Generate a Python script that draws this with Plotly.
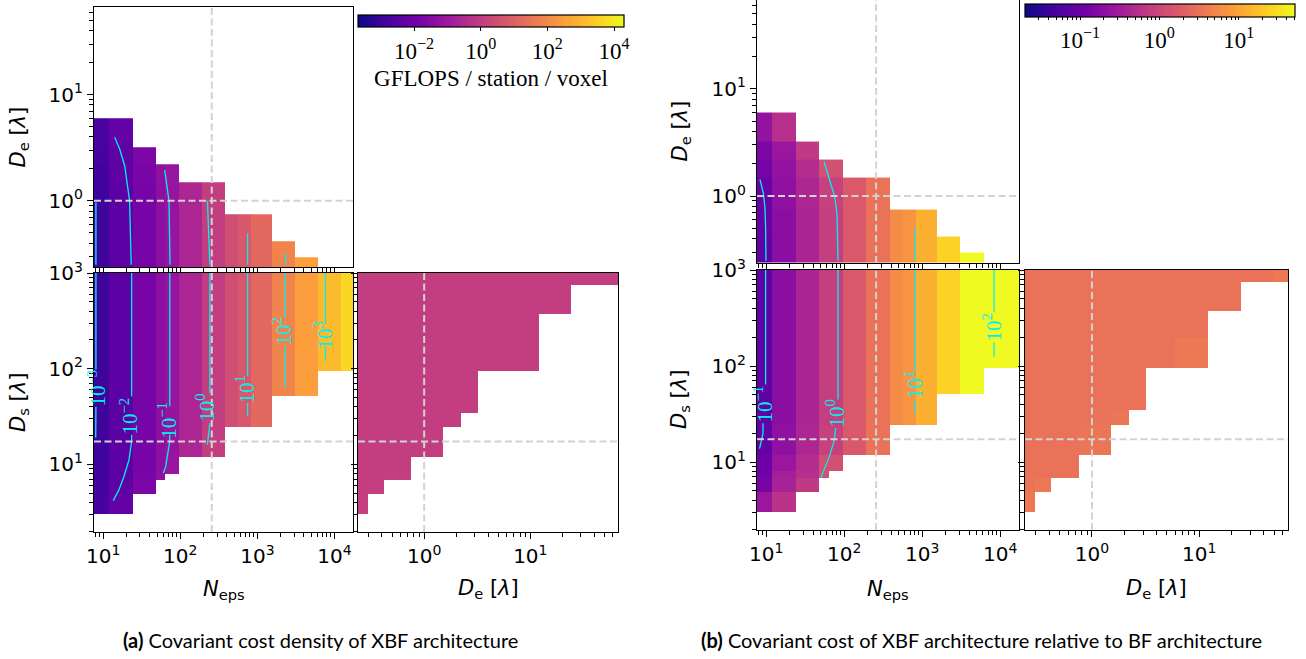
import numpy as np
import plotly.graph_objects as go

W, H = 1306, 659
N = None

# ---------------- data ----------------
# cell edges of the parameter grid
NEPS_EDGES = [7.6, 12, 24, 48, 64, 96, 192, 384, 560, 820, 1536, 3072, 6144, 12000, 17400]
DE_EDGES = [0.238, 0.295, 0.417, 0.755, 1.5, 2.2, 3.2, 6.0, 12.1, 24.2, 48.6, 67]
DS_EDGES = [3.0, 4.85, 6.85, 8.0, 11.9, 24.3, 34.7, 51.4, 95, 195, 370, 750, 1000]

# slice values (dashed lines)
SLICE_NEPS = 256
SLICE_DE = 1.0
SLICE_DS = 17.3

# (a) log10 GFLOPS / station / voxel
A_TL = [  # rows: D_e bins (0.238..6.0), cols: N_eps bins
    [-2.9, -2.35, -1.8, -1.35, -1.15, -0.6, 0.05, 0.5, 0.75, 1.2, 1.9, 2.5, N, N],
    [-2.9, -2.35, -1.8, -1.35, -1.15, -0.6, 0.05, 0.5, 0.75, 1.2, 1.9, N, N, N],
    [-2.9, -2.35, -1.8, -1.35, -1.15, -0.6, 0.05, 0.5, 0.75, 1.2, N, N, N, N],
    [-2.9, -2.35, -1.8, -1.35, -1.15, -0.6, 0.05, N, N, N, N, N, N, N],
    [-2.85, -2.3, -1.75, -1.3, -1.1, N, N, N, N, N, N, N, N, N],
    [-2.8, -2.3, -1.7, N, N, N, N, N, N, N, N, N, N, N],
    [-2.7, -2.2, N, N, N, N, N, N, N, N, N, N, N, N],
]
A_BL = [  # rows: D_s bins, cols: N_eps bins
    [-2.75, -2.2, N, N, N, N, N, N, N, N, N, N, N, N],
    [-2.8, -2.3, -1.7, N, N, N, N, N, N, N, N, N, N, N],
    [-2.85, -2.35, -1.75, -1.3, N, N, N, N, N, N, N, N, N, N],
    [-2.9, -2.35, -1.8, -1.35, -1.1, N, N, N, N, N, N, N, N, N],
    [-2.9, -2.35, -1.8, -1.35, -1.15, -0.6, 0.05, N, N, N, N, N, N, N],
    [-2.9, -2.35, -1.8, -1.35, -1.15, -0.6, 0.05, 0.5, 0.75, 1.2, N, N, N, N],
    [-2.9, -2.35, -1.8, -1.35, -1.15, -0.6, 0.05, 0.5, 0.75, 1.2, N, N, N, N],
    [-2.9, -2.35, -1.8, -1.35, -1.15, -0.6, 0.05, 0.5, 0.75, 1.2, 1.9, 2.5, N, N],
    [-2.9, -2.35, -1.8, -1.35, -1.15, -0.6, 0.05, 0.5, 0.75, 1.2, 1.9, 2.5, 3.1, 3.65],
    [-2.9, -2.35, -1.8, -1.35, -1.15, -0.6, 0.05, 0.5, 0.75, 1.2, 1.9, 2.5, 3.1, 3.65],
    [-2.9, -2.35, -1.8, -1.35, -1.15, -0.6, 0.05, 0.5, 0.75, 1.2, 1.9, 2.5, 3.1, 3.65],
    [-2.9, -2.35, -1.8, -1.35, -1.15, -0.6, 0.05, 0.5, 0.75, 1.2, 1.9, 2.5, 3.1, 3.65],
]
A_BR = [  # rows: D_s bins, cols: D_e bins
    [0.1, N, N, N, N, N, N, N, N, N, N],
    [0.07, 0.08, N, N, N, N, N, N, N, N, N],
    [0.06, 0.06, 0.08, N, N, N, N, N, N, N, N],
    [0.05, 0.05, 0.06, N, N, N, N, N, N, N, N],
    [0.05, 0.05, 0.05, 0.06, N, N, N, N, N, N, N],
    [0.05, 0.05, 0.05, 0.05, 0.06, N, N, N, N, N, N],
    [0.05, 0.05, 0.05, 0.05, 0.05, 0.05, N, N, N, N, N],
    [0.05, 0.05, 0.05, 0.05, 0.05, 0.05, N, N, N, N, N],
    [0.05, 0.05, 0.05, 0.05, 0.05, 0.05, 0.05, 0.05, N, N, N],
    [0.05, 0.05, 0.05, 0.05, 0.05, 0.05, 0.05, 0.05, N, N, N],
    [0.05, 0.05, 0.05, 0.05, 0.05, 0.05, 0.05, 0.05, 0.05, N, N],
    [0.05, 0.05, 0.05, 0.05, 0.05, 0.05, 0.05, 0.05, 0.05, 0.05, 0.05],
]

# (b) log10 cost ratio XBF / BF
B_TL = [
    [-1.08, -0.71, -0.40, -0.09, -0.09, 0.21, 0.50, 0.76, 0.84, 1.10, 1.40, 1.75, N, N],
    [-1.08, -0.71, -0.40, -0.09, -0.09, 0.21, 0.50, 0.76, 0.84, 1.10, 1.40, N, N, N],
    [-1.05, -0.71, -0.40, -0.09, -0.09, 0.21, 0.50, 0.76, 0.84, 1.10, N, N, N, N],
    [-1.01, -0.67, -0.37, -0.06, -0.06, 0.22, 0.50, N, N, N, N, N, N, N],
    [-0.91, -0.64, -0.30, 0.11, 0.11, N, N, N, N, N, N, N, N, N],
    [-0.84, -0.57, -0.16, N, N, N, N, N, N, N, N, N, N, N],
    [-0.64, -0.26, N, N, N, N, N, N, N, N, N, N, N, N],
]
B_BL = [
    [-0.57, -0.23, N, N, N, N, N, N, N, N, N, N, N, N],
    [-0.88, -0.43, -0.16, N, N, N, N, N, N, N, N, N, N, N],
    [-0.95, -0.47, -0.27, 0.11, N, N, N, N, N, N, N, N, N, N],
    [-0.98, -0.57, -0.30, 0.11, 0.11, N, N, N, N, N, N, N, N, N],
    [-1.05, -0.67, -0.37, -0.06, -0.06, 0.22, 0.50, N, N, N, N, N, N, N],
    [-1.08, -0.72, -0.40, -0.09, -0.09, 0.21, 0.50, 0.76, 0.84, 1.10, N, N, N, N],
    [-1.08, -0.72, -0.40, -0.09, -0.09, 0.21, 0.50, 0.76, 0.84, 1.10, N, N, N, N],
    [-1.08, -0.72, -0.40, -0.09, -0.09, 0.21, 0.50, 0.76, 0.84, 1.10, 1.40, 1.75, N, N],
    [-1.08, -0.72, -0.40, -0.09, -0.09, 0.21, 0.50, 0.76, 0.84, 1.10, 1.40, 1.75, 2.05, 2.2],
    [-1.08, -0.72, -0.40, -0.09, -0.09, 0.21, 0.50, 0.76, 0.84, 1.10, 1.40, 1.75, 2.05, 2.2],
    [-1.08, -0.72, -0.40, -0.09, -0.09, 0.21, 0.50, 0.76, 0.84, 1.10, 1.40, 1.75, 2.05, 2.2],
    [-1.08, -0.72, -0.40, -0.09, -0.09, 0.21, 0.50, 0.76, 0.84, 1.10, 1.40, 1.75, 2.05, 2.2],
]
B_BR = [
    [0.58, N, N, N, N, N, N, N, N, N, N],
    [0.52, 0.56, N, N, N, N, N, N, N, N, N],
    [0.50, 0.50, 0.51, N, N, N, N, N, N, N, N],
    [0.50, 0.50, 0.50, N, N, N, N, N, N, N, N],
    [0.50, 0.50, 0.50, 0.54, N, N, N, N, N, N, N],
    [0.50, 0.50, 0.50, 0.50, 0.54, N, N, N, N, N, N],
    [0.50, 0.50, 0.50, 0.50, 0.50, 0.50, N, N, N, N, N],
    [0.50, 0.50, 0.50, 0.50, 0.50, 0.50, N, N, N, N, N],
    [0.50, 0.50, 0.50, 0.50, 0.50, 0.50, 0.50, 0.56, N, N, N],
    [0.50, 0.50, 0.50, 0.50, 0.50, 0.50, 0.50, 0.50, N, N, N],
    [0.50, 0.50, 0.50, 0.50, 0.50, 0.50, 0.50, 0.50, 0.50, N, N],
    [0.50, 0.50, 0.50, 0.50, 0.50, 0.50, 0.50, 0.50, 0.50, 0.50, 0.58],
]

# contour lines (N_eps values, D values[, label, label position])
A_TL_CONT = [
    ([8.05, 8.05], [0.966, 0.25]),
    ([14.1, 16.3, 19.0, 20.9, 22.0, 23.1], [3.98, 3.09, 2.14, 1.39, 1.0, 0.25]),
    ([62.8, 67.3, 71.4, 73.6], [1.96, 1.39, 1.0, 0.25]),
    ([225, 242], [1.0, 0.25]),
    ([747, 747], [0.495, 0.25]),
    ([2330, 2330], [0.32, 0.25]),
]
A_BL_CONT = [
    ("10<sup>−3</sup>", [8.05, 8.05, N, 8.05, 8.0], [1000, 98, N, 40, 19], (8.2, 62.7)),
    ("10<sup>−2</sup>", [23.4, 23.4, N, 23.4, 23.4, 21.6, 18.6, 16.0, 13.5],
     [1000, 51.4, N, 20.4, 17.3, 11.1, 7.45, 5.4, 4.17], (21.6, 32.4)),
    ("10<sup>−1</sup>", [73, 73, N, 73, 73, 67.9, 64.7, 60.3],
     [1000, 40.4, N, 20.4, 17.4, 12.1, 9.5, 8.1], (67.9, 28.8)),
    ("10<sup>0</sup>", [242, 242, N, 242, 233, 225], [1000, 55.8, N, 27, 20, 16], (215, 38.9)),
    ("10<sup>1</sup>", [747, 747, N, 747, 747], [1000, 83.4, N, 43.9, 31.8], (711, 60.5)),
    ("10<sup>2</sup>", [2285, 2285, N, 2285, 2285], [1000, 342, N, 172, 63], (2130, 243)),
    ("10<sup>3</sup>", [7640, 7640, N, 7640, 7640], [1000, 291, N, 172, 120], (7200, 224)),
]
B_TL_CONT = [
    ([8.3, 9.2, 9.6, 9.8, 9.9], [1.43, 1.05, 0.79, 0.514, 0.25]),
    ([55, 65.2, 75.4, 80.7, 83.2], [2.1, 1.4, 0.98, 0.685, 0.25]),
    ([817, 817], [0.503, 0.25]),
]
B_BL_CONT = [
    ("10<sup>−1</sup>", [9.8, 9.8, N, 9.07, 9.07, 8.2], [1000, 64.3, N, 25.3, 19.9, 13.8], (9.3, 40.6)),
    ("10<sup>0</sup>", [83.2, 83.2, N, 77.6, 73.8, 65.2, 56.2, 50.1],
     [1000, 44.8, N, 22.6, 16.4, 11.8, 8.6, 6.85], (78, 31.9)),
    ("10<sup>1</sup>", [817, 817, N, 817, 817], [1000, 88.9, N, 44.8, 31.9], (780, 63.1)),
    ("10<sup>2</sup>", [8340, 8340, N, 8340, 8340], [1000, 363, N, 176, 125], (7900, 253)),
]

# ranges (log10)
NEPS_RANGE = [np.log10(7.6), np.log10(17400)]
DE_RANGE = [np.log10(0.238), np.log10(67)]
DS_RANGE = [0.292, 3.0]

A_CB = [-3.68, 4.3]
B_CB = [-1.694, 1.71]

# ---------------- figure ----------------
fig = go.Figure()


def dx(a, b):
    return [a / W, b / W]


def dy(top, bottom):
    return [1 - bottom / H, min(1.0, 1 - top / H)]


MINOR = [k * 10.0 ** d for d in range(-2, 5) for k in range(2, 10)]


def axis(rng, domain, anchor, labels, tv, tt):
    return dict(type='log', range=rng, domain=domain, anchor=anchor,
                showgrid=False, zeroline=False, showline=True, linecolor='black',
                linewidth=1.3, mirror=True, ticks='outside', ticklen=6, tickwidth=1.2,
                tickcolor='black', tickmode='array', tickvals=tv, ticktext=tt,
                showticklabels=labels,
                tickfont=dict(family='DejaVu Sans', size=20, color='black'),
                minor=dict(ticks='outside', ticklen=3.5, tickwidth=1, tickcolor='black',
                           tickmode='array', tickvals=MINOR, showgrid=False),
                fixedrange=True)


NE_TV = [10, 100, 1000, 10000]
NE_TT = ['10<sup>1</sup>', '10<sup>2</sup>', '10<sup>3</sup>', '10<sup>4</sup>']
DE_TV = [1, 10]
DE_TT = ['10<sup>0</sup>', '10<sup>1</sup>']
DS_TV = [10, 100, 1000]
DS_TT = ['10<sup>1</sup>', '10<sup>2</sup>', '10<sup>3</sup>']

panels = {
    'a': dict(tl=(94, 353, 7, 267), bl=(94, 353, 273, 532), br=(358, 618, 273, 532)),
    'b': dict(tl=(757, 1019, 0, 263), bl=(757, 1019, 270, 530), br=(1025, 1288, 270, 530)),
}

layout = dict(width=W, height=H, margin=dict(l=0, r=0, t=0, b=0, autoexpand=False),
              paper_bgcolor='white', plot_bgcolor='white', showlegend=False)

annotations = []
DASH = dict(color='#d3d3d3', width=2, dash='7px,3.5px')
CYAN = dict(color='#00f0f0', width=1.3)

for pi, (key, tl_z, bl_z, br_z, tl_c, bl_c, cax) in enumerate([
        ('a', A_TL, A_BL, A_BR, A_TL_CONT, A_BL_CONT, 'coloraxis'),
        ('b', B_TL, B_BL, B_BR, B_TL_CONT, B_BL_CONT, 'coloraxis2')]):
    p = panels[key]
    i0 = pi * 3
    ids = [str(i0 + 1) if i0 + 1 > 1 else '', str(i0 + 2), str(i0 + 3)]
    xa = ['x' + s for s in ids]
    ya = ['y' + s for s in ids]
    # axes
    x0, x1, y0, y1 = p['tl']
    layout['xaxis' + ids[0]] = axis(NEPS_RANGE, dx(x0, x1), ya[0], False, NE_TV, NE_TT)
    layout['yaxis' + ids[0]] = axis(DE_RANGE, dy(y0, y1), xa[0], True, DE_TV, DE_TT)
    x0, x1, y0, y1 = p['bl']
    layout['xaxis' + ids[1]] = axis(NEPS_RANGE, dx(x0, x1), ya[1], True, NE_TV, NE_TT)
    layout['yaxis' + ids[1]] = axis(DS_RANGE, dy(y0, y1), xa[1], True, DS_TV, DS_TT)
    x0, x1, y0, y1 = p['br']
    layout['xaxis' + ids[2]] = axis(DE_RANGE, dx(x0, x1), ya[2], True, DE_TV, DE_TT)
    layout['yaxis' + ids[2]] = axis(DS_RANGE, dy(y0, y1), xa[2], False, DS_TV, DS_TT)

    # heatmaps
    fig.add_trace(go.Heatmap(x=NEPS_EDGES, y=DE_EDGES[:8], z=tl_z, coloraxis=cax,
                             xaxis=xa[0], yaxis=ya[0], hoverinfo='skip'))
    fig.add_trace(go.Heatmap(x=NEPS_EDGES, y=DS_EDGES, z=bl_z, coloraxis=cax,
                             xaxis=xa[1], yaxis=ya[1], hoverinfo='skip'))
    fig.add_trace(go.Heatmap(x=DE_EDGES, y=DS_EDGES, z=br_z, coloraxis=cax,
                             xaxis=xa[2], yaxis=ya[2], hoverinfo='skip'))

    # contours
    for xs, ys in tl_c:
        fig.add_trace(go.Scatter(x=xs, y=ys, mode='lines', line=CYAN, xaxis=xa[0],
                                 yaxis=ya[0], hoverinfo='skip'))
    for lab, xs, ys, (lx, ly) in bl_c:
        fig.add_trace(go.Scatter(x=xs, y=ys, mode='lines', line=CYAN, xaxis=xa[1],
                                 yaxis=ya[1], hoverinfo='skip'))
        annotations.append(dict(x=np.log10(lx), y=np.log10(ly), xref=xa[1], yref=ya[1],
                                text=lab, showarrow=False, textangle=-90,
                                font=dict(family='Liberation Serif', size=21, color='#00f0f0')))

    # dashed slice lines
    ne = [10 ** NEPS_RANGE[0], 10 ** NEPS_RANGE[1]]
    de = [10 ** DE_RANGE[0], 10 ** DE_RANGE[1]]
    ds = [10 ** DS_RANGE[0], 10 ** DS_RANGE[1]]
    for (xs, ys, k) in [([SLICE_NEPS] * 2, de, 0), (ne, [SLICE_DE] * 2, 0),
                        ([SLICE_NEPS] * 2, ds, 1), (ne, [SLICE_DS] * 2, 1),
                        ([SLICE_DE] * 2, ds, 2), (de, [SLICE_DS] * 2, 2)]:
        fig.add_trace(go.Scatter(x=xs, y=ys, mode='lines', line=DASH, xaxis=xa[k],
                                 yaxis=ya[k], hoverinfo='skip'))

    # axis titles
    ttl = dict(family='DejaVu Sans', size=21, color='black')
    de_t = '<i>D</i><sub>e</sub> [<i>λ</i>]'
    ds_t = '<i>D</i><sub>s</sub> [<i>λ</i>]'
    ne_t = '<i>N</i><sub>eps</sub>'
    tx = 18.5 if key == 'a' else 680
    x0, x1, y0, y1 = p['tl']
    annotations.append(dict(x=tx / W, y=1 - (y0 + y1) / 2 / H, xref='paper', yref='paper',
                            text=de_t, textangle=-90, showarrow=False, font=ttl,
                            xanchor='center', yanchor='middle'))
    x0, x1, y0, y1 = p['bl']
    annotations.append(dict(x=tx / W, y=1 - (y0 + y1) / 2 / H, xref='paper', yref='paper',
                            text=ds_t, textangle=-90, showarrow=False, font=ttl,
                            xanchor='center', yanchor='middle'))
    annotations.append(dict(x=(x0 + x1) / 2 / W, y=1 - 590 / H, xref='paper', yref='paper',
                            text=ne_t, showarrow=False, font=ttl,
                            xanchor='center', yanchor='middle'))
    x0, x1, y0, y1 = p['br']
    annotations.append(dict(x=(x0 + x1) / 2 / W, y=1 - 589 / H, xref='paper', yref='paper',
                            text=de_t, showarrow=False, font=ttl,
                            xanchor='center', yanchor='middle'))

# colour axes
serif = 'Liberation Serif'
B_MINOR = [np.log10(k * 10.0 ** d) for d in range(-2, 2) for k in range(2, 10)
           if B_CB[0] <= np.log10(k * 10.0 ** d) <= B_CB[1]]
layout['coloraxis'] = dict(
    colorscale='Plasma', cmin=A_CB[0], cmax=A_CB[1],
    colorbar=dict(orientation='h', x=358 / W, xanchor='left', y=1 - 15 / H, yanchor='top',
                  len=266, lenmode='pixels', thickness=12, thicknessmode='pixels',
                  xpad=0, ypad=0, outlinewidth=1.2, outlinecolor='black',
                  ticks='outside', ticklen=4, tickwidth=1.2, tickcolor='black',
                  tickmode='array', tickvals=[-2, 0, 2, 4],
                  ticktext=['10<sup>−2</sup>', '10<sup>0</sup>', '10<sup>2</sup>', '10<sup>4</sup>'],
                  tickfont=dict(family=serif, size=23, color='black'),
                  title=dict(text='GFLOPS / station / voxel', side='bottom',
                             font=dict(family=serif, size=23, color='black'))))
layout['coloraxis2'] = dict(
    colorscale='Plasma', cmin=B_CB[0], cmax=B_CB[1],
    colorbar=dict(orientation='h', x=1025 / W, xanchor='left', y=1 - 4 / H, yanchor='top',
                  len=270, lenmode='pixels', thickness=13, thicknessmode='pixels',
                  xpad=0, ypad=0, outlinewidth=1.2, outlinecolor='black',
                  ticks='outside', ticklen=3, tickwidth=1, tickcolor='black',
                  tickmode='array', tickvals=[-1, 0, 1] + B_MINOR,
                  ticktext=['10<sup>−1</sup>', '10<sup>0</sup>', '10<sup>1</sup>'] + [''] * len(B_MINOR),
                  tickfont=dict(family=serif, size=23, color='black')))

# captions
cap = dict(family='Lato', size=20, color='black')
annotations.append(dict(x=320 / W, y=1 - 640 / H, xref='paper', yref='paper', showarrow=False,
                        text='<b>(a)</b> Covariant cost density of XBF architecture', font=cap,
                        xanchor='center', yanchor='middle'))
annotations.append(dict(x=981 / W, y=1 - 640 / H, xref='paper', yref='paper', showarrow=False,
                        text='<b>(b)</b> Covariant cost of XBF architecture relative to BF architecture',
                        font=cap, xanchor='center', yanchor='middle'))

layout['annotations'] = annotations
fig.update_layout(**layout)
fig.write_html('out.html', config={'displayModeBar': False},
               post_script="document.body.style.margin='0px';")
